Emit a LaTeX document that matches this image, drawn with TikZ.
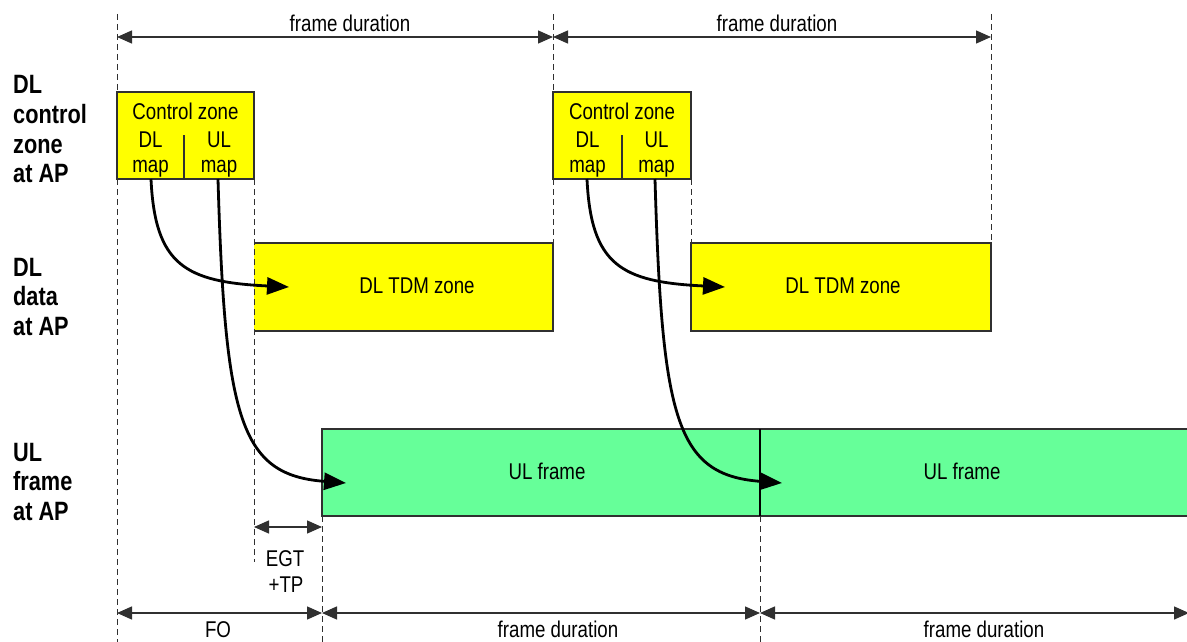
\documentclass[tikz,border=0pt]{standalone}
\usepackage{fontspec}
\setmainfont{Liberation Sans}[FakeStretch=0.82]
\usetikzlibrary{arrows.meta}
\definecolor{zoneyellow}{HTML}{FFFF00}
\definecolor{ulgreen}{HTML}{66FF99}
\definecolor{edge}{HTML}{303030}
\begin{document}
\begin{tikzpicture}[x=1pt,y=-1pt,
  txt/.style={font=\fontsize{22.8}{26}\selectfont, inner sep=0pt, anchor=base},
  lbl/.style={font=\fontsize{26.5}{29.5}\selectfont\bfseries, inner sep=0pt, anchor=base west},
  guide/.style={draw=edge, line width=1pt, dash pattern=on 6pt off 4pt},
  dim/.style={draw=edge, line width=1.4pt, {Triangle[length=15pt,width=13pt]}-{Triangle[length=15pt,width=13pt]}},
  maparrow/.style={draw=black, line width=2.8pt, -{Triangle[length=22pt,width=17pt]}},
  edgeline/.style={draw=edge, line width=1.4pt}
]
\useasboundingbox (0,0) rectangle (1187,642);

% ---------- coordinates ----------
\coordinate (a0) at (117,14);
\coordinate (a1) at (553,14);
\coordinate (a2) at (991,14);
\coordinate (d0) at (117,37);
\coordinate (d1) at (553,37);
\coordinate (d2) at (991,37);
\coordinate (b0) at (117,613);
\coordinate (b1) at (322,613);
\coordinate (b2) at (760,613);
\coordinate (b3) at (1189,613);
\coordinate (g0) at (254,527);
\coordinate (g1) at (322,527);

% ---------- boxes ----------
% control zones
\path[fill=zoneyellow, edgeline] (117,92) rectangle (254,179);
\path[fill=zoneyellow, edgeline] (553,92) rectangle (691,179);
\coordinate (cz1div) at (184,135); \coordinate (cz1divb) at (184,179);
\coordinate (cz2div) at (622,135); \coordinate (cz2divb) at (622,179);
\draw[edgeline] (cz1div) -- (cz1divb);
\draw[edgeline] (cz2div) -- (cz2divb);

% DL TDM zones
\fill[zoneyellow] (254,243) rectangle (553,331);
\draw[edgeline] (254,243) -- (553,243) -- (553,331) -- (254,331);
\path[fill=zoneyellow, edgeline] (691,243) rectangle (991,331);

% UL frames
\fill[ulgreen] (322,429) rectangle (1195,516);
\draw[edgeline] (1195,429) -- (322,429) -- (322,516) -- (1195,516);
\draw[draw=black, line width=1.4pt] (760,429) -- (760,516);

% ---------- dashed guides ----------
\draw[guide] (a0) -- (117,92);
\draw[guide] (117,179) -- (117,642);
\draw[guide] (a1) -- (553,92);
\draw[guide] (553,179) -- (553,243);
\draw[guide] (a2) -- (991,243);
\draw[guide] (254,179) -- (254,562);
\draw[guide] (691,179) -- (691,243);
\draw[guide] (322,516) -- (322,642);
\draw[guide] (760,516) -- (760,642);

% ---------- dimension arrows ----------
\draw[dim] (d0) -- (d1);
\draw[dim] (d1) -- (d2);
\draw[dim] (g0) -- (g1);
\draw[dim] (b0) -- (b1);
\draw[dim] (b1) -- (b2);
\draw[dim] (b2) -- (b3);

% ---------- texts ----------
\node[txt] (fd1) at (350,32) {frame duration};
\node[txt] (fd2) at (777,32) {frame duration};

\node[txt] (cz1t) at (185.5,119) {Control zone};
\node[txt] (cz1dl) at (150.5,147) {DL};
\node[txt] (cz1dlm) at (150.5,172) {map};
\node[txt] (cz1ul) at (219,147) {UL};
\node[txt] (cz1ulm) at (219,172) {map};

\node[txt] (cz2t) at (622,119) {Control zone};
\node[txt] (cz2dl) at (587.5,147) {DL};
\node[txt] (cz2dlm) at (587.5,172) {map};
\node[txt] (cz2ul) at (656.5,147) {UL};
\node[txt] (cz2ulm) at (656.5,172) {map};

\node[txt] (tdm1) at (417,293) {DL TDM zone};
\node[txt] (tdm2) at (843,293) {DL TDM zone};
\node[txt] (ul1) at (547,479) {UL frame};
\node[txt] (ul2) at (962,479) {UL frame};

\node[txt] (egt) at (285,566) {EGT};
\node[txt] (tp) at (286,592) {+TP};

\node[txt] (fo) at (218,637) {FO};
\node[txt] (fd3) at (558,637) {frame duration};
\node[txt] (fd4) at (984,637) {frame duration};

\node[lbl] (la1) at (13,94) {DL};
\node[lbl] (la2) at (13,123.5) {control};
\node[lbl] (la3) at (13,153) {zone};
\node[lbl] (la4) at (13,182.5) {at AP};
\node[lbl] (lb1) at (13,276) {DL};
\node[lbl] (lb2) at (13,305.5) {data};
\node[lbl] (lb3) at (13,335) {at AP};
\node[lbl] (lc1) at (13,461) {UL};
\node[lbl] (lc2) at (13,490.5) {frame};
\node[lbl] (lc3) at (13,520) {at AP};

% ---------- map arrows ----------
\coordinate (s1) at (151,179);  \coordinate (e1) at (289,287);
\coordinate (s2) at (218,179);  \coordinate (e2) at (346,483);
\coordinate (s3) at (587,179);  \coordinate (e3) at (725,287);
\coordinate (s4) at (655,179);  \coordinate (e4) at (782,483);
\draw[maparrow] (s1) .. controls (155,265) and (185,282) .. (e1);
\draw[maparrow] (s2) .. controls (225,420) and (240,475) .. (e2);
\draw[maparrow] (s3) .. controls (591,265) and (621,282) .. (e3);
\draw[maparrow] (s4) .. controls (662,420) and (676,475) .. (e4);
\end{tikzpicture}
\end{document}
